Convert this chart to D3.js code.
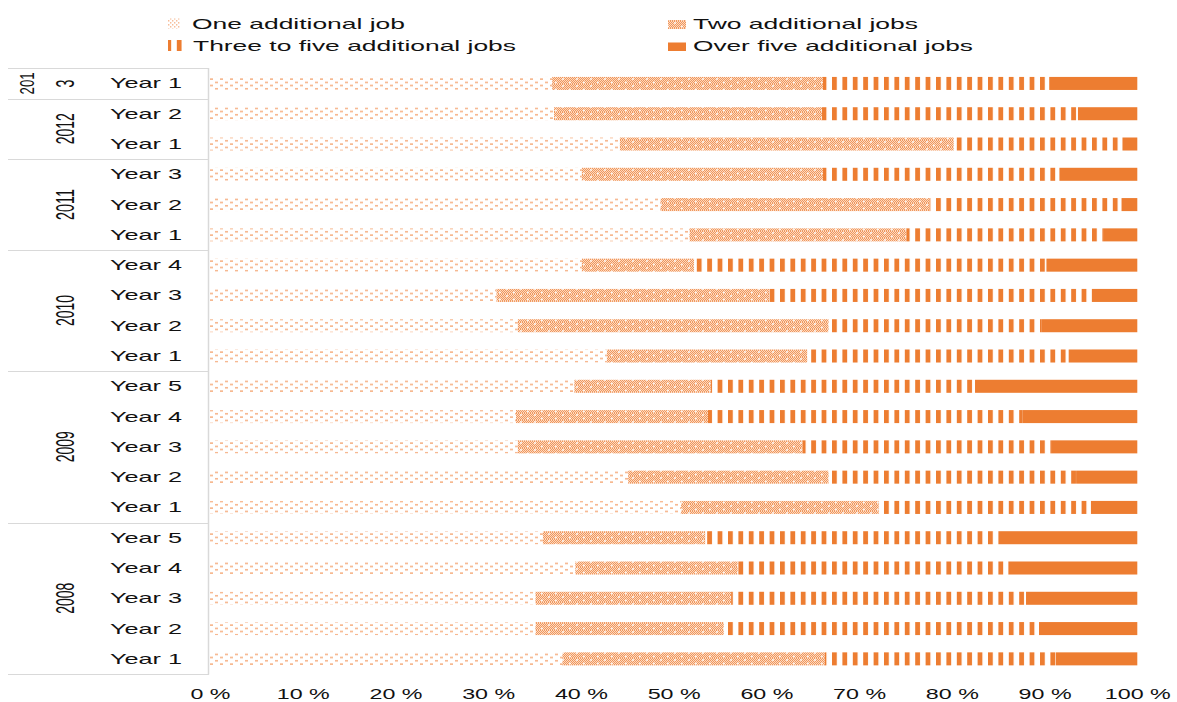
<!DOCTYPE html>
<html>
<head>
<meta charset="utf-8">
<script src="https://cdn.jsdelivr.net/npm/d3@7"></script>
<style>
  html, body { margin: 0; padding: 0; background: #ffffff; }
  svg { display: block; }
  text { font-family: "Liberation Sans", Arial, sans-serif; fill: #111111; }
</style>
</head>
<body>
<svg id="chart" width="1177" height="702"></svg>
<script>
// Rows, top to bottom
const cohortYears = ["2013","2012","2012","2011","2011","2011","2010","2010","2010","2010",
                     "2009","2009","2009","2009","2009","2008","2008","2008","2008","2008"];
const rowLabels = ["Year 1","Year 2","Year 1","Year 3","Year 2","Year 1","Year 4","Year 3","Year 2","Year 1",
                   "Year 5","Year 4","Year 3","Year 2","Year 1","Year 5","Year 4","Year 3","Year 2","Year 1"];

// Shares of each category (%)
const oneJob      = [36.9,37.1,44.2,40.1,48.6,51.7,40.1,30.9,33.2,42.8,39.3,33.0,33.2,45.1,50.8,35.9,39.4,35.1,35.1,38.0];
const twoJobs     = [29.2,28.9,36.0,26.0,29.0,23.4,12.1,29.4,33.5,21.6,14.7,20.7,30.7,21.6,21.3,17.5,17.5,21.1,20.3,28.3];
const threeToFive = [24.4,27.6,18.2,25.5,20.7,21.3,38.0,34.8,23.0,28.2,28.5,33.9,26.8,26.7,22.9,31.9,29.2,31.8,34.0,24.9];
const overFive    = [ 9.5, 6.4, 1.6, 8.4, 1.7, 3.6, 9.8, 4.9,10.3, 7.4,17.5,12.4, 9.3, 6.6, 5.0,14.7,13.9,12.0,10.6, 8.8];

const seriesNames = ["One additional job","Two additional jobs","Three to five additional jobs","Over five additional jobs"];
const tickValues = [0,10,20,30,40,50,60,70,80,90,100];

const svg = d3.select("#chart");
const defs = svg.append("defs");

// Fill patterns
function dotPattern(id, w, h, dw, dh) {
  const p = defs.append("pattern").attr("id",id).attr("patternUnits","userSpaceOnUse")
    .attr("width",w).attr("height",h);
  p.append("rect").attr("x",0).attr("y",h*0.06).attr("width",dw).attr("height",dh).attr("fill","#f08c4c").attr("opacity",0.75);
  p.append("rect").attr("x",w/2).attr("y",h*0.56).attr("width",dw).attr("height",dh).attr("fill","#f08c4c").attr("opacity",0.75);
}
dotPattern("p-one", 10, 6.5, 3, 1.4);
dotPattern("p-one-key", 4, 4, 1.4, 1.2);

const pCheck = defs.append("pattern").attr("id","p-check").attr("patternUnits","userSpaceOnUse")
  .attr("width",2).attr("height",2);
pCheck.append("rect").attr("width",2).attr("height",2).attr("fill","#fbd9c2");
pCheck.append("rect").attr("width",1).attr("height",1).attr("fill","#f1975b");
pCheck.append("rect").attr("x",1).attr("y",1).attr("width",1).attr("height",1).attr("fill","#f1975b");

const pTwo = defs.append("pattern").attr("id","p-two").attr("patternUnits","userSpaceOnUse")
  .attr("width",14).attr("height",7);
pTwo.append("rect").attr("width",14).attr("height",7).attr("fill","url(#p-check)");
pTwo.append("circle").attr("cx",3).attr("cy",2).attr("r",0.9).attr("fill","#ffffff");
pTwo.append("circle").attr("cx",10).attr("cy",5.5).attr("r",0.9).attr("fill","#ffffff");

const pThree = defs.append("pattern").attr("id","p-three").attr("patternUnits","userSpaceOnUse")
  .attr("width",10.4).attr("height",10);
pThree.append("rect").attr("x",0).attr("width",4.8).attr("height",10).attr("fill","#ED7D31");

const fills = ["url(#p-one)","url(#p-two)","url(#p-three)","#ED7D31"];
const keyFills = ["url(#p-one-key)","url(#p-two)","url(#p-three)","#ED7D31"];

// Table for stacking
const keys = ["one","two","three","over"];
const rows = rowLabels.map((lab,i) => ({
  id: i, label: lab, cohort: cohortYears[i],
  one: oneJob[i], two: twoJobs[i], three: threeToFive[i], over: overFive[i]
}));
const stacked = d3.stack().keys(keys)(rows);

// Scales
const x = d3.scaleLinear().domain([0,100]).range([210,1137.3]);
const y = d3.scaleBand().domain(rows.map(d=>d.id)).range([68.3,674])
  .paddingInner(0.57).paddingOuter(0.285);
const step = y.step();
const bandTop = i => y(i) - y.paddingOuter()*step;

// Group separators and vertical axis
const gridColor = "#d9d9d9";
const groupNames = Array.from(new Set(cohortYears));
const groups = groupNames.map(g => {
  const idx = rows.filter(r=>r.cohort===g).map(r=>r.id);
  return {name:g, first:d3.min(idx), last:d3.max(idx)};
});
const sepYs = [68.3].concat(groups.map(g => bandTop(g.last) + step));
svg.append("g").selectAll("line").data(sepYs).join("line")
  .attr("x1",8).attr("x2",209).attr("y1",d=>Math.round(d)+0.5).attr("y2",d=>Math.round(d)+0.5)
  .attr("stroke",gridColor).attr("stroke-width",1);
svg.append("line").attr("x1",208.5).attr("x2",208.5).attr("y1",68).attr("y2",674.5)
  .attr("stroke",gridColor).attr("stroke-width",1.5);

// Bars
svg.append("g").selectAll("g").data(stacked).join("g")
  .attr("fill",(d,i)=>fills[i])
  .selectAll("rect").data(d=>d.map(s=>({s, id:s.data.id}))).join("rect")
  .attr("x",d=>x(d.s[0]))
  .attr("width",d=>x(d.s[1])-x(d.s[0]))
  .attr("y",d=>y(d.id))
  .attr("height",y.bandwidth());

// Row labels
svg.append("g").selectAll("text").data(rows).join("text")
  .attr("x",110).attr("y",d=>y(d.id)+y.bandwidth()/2+5)
  .attr("font-size",15)
  .attr("textLength",72).attr("lengthAdjust","spacingAndGlyphs")
  .text(d=>d.label);

// Cohort labels (rotated); the first one wraps onto two lines
const gLab = svg.append("g");
groups.forEach(g => {
  const cy = (y(g.first) + y(g.last) + y.bandwidth())/2;
  if (g.name === "2013") {
    gLab.append("text").attr("transform",`translate(34,${cy}) rotate(-90)`)
      .attr("text-anchor","middle").attr("font-size",20)
      .attr("textLength",22).attr("lengthAdjust","spacingAndGlyphs").text("201");
    gLab.append("text").attr("transform",`translate(74,${cy}) rotate(-90)`)
      .attr("text-anchor","middle").attr("font-size",26)
      .attr("textLength",8).attr("lengthAdjust","spacingAndGlyphs").text("3");
  } else {
    gLab.append("text").attr("transform",`translate(74,${cy}) rotate(-90)`)
      .attr("text-anchor","middle").attr("font-size",26)
      .attr("textLength",31).attr("lengthAdjust","spacingAndGlyphs").text(g.name);
  }
});

// X axis
const xAxis = d3.axisBottom(x).tickValues(tickValues).tickSize(0).tickPadding(14)
  .tickFormat(d => d + " %");
const gx = svg.append("g").attr("transform","translate(0,674)").call(xAxis);
gx.select(".domain").remove();
gx.selectAll("text")
  .attr("font-family","Liberation Sans, Arial, sans-serif")
  .attr("font-size",15).attr("fill","#111111")
  .attr("textLength",d => 27 + 13*String(d).length)
  .attr("lengthAdjust","spacingAndGlyphs");

// Legend
const legendItems = [
  {name:seriesNames[0], fill:keyFills[0], sx:168, sy:18.5, sw:12, sh:10, tx:192, ty:29, tl:213},
  {name:seriesNames[1], fill:keyFills[1], sx:668, sy:20,   sw:18, sh:9,  tx:693, ty:29, tl:225},
  {name:seriesNames[2], fill:keyFills[2], sx:168, sy:40,   sw:14, sh:11, tx:193, ty:51, tl:323},
  {name:seriesNames[3], fill:keyFills[3], sx:668, sy:42.5, sw:18, sh:8.5,tx:693, ty:51, tl:280}
];
const lg = svg.append("g").selectAll("g").data(legendItems).join("g");
lg.append("rect").attr("x",d=>d.sx).attr("y",d=>d.sy).attr("width",d=>d.sw).attr("height",d=>d.sh)
  .attr("fill",d=>d.fill);
lg.append("text").attr("x",d=>d.tx).attr("y",d=>d.ty).attr("font-size",15)
  .attr("textLength",d=>d.tl).attr("lengthAdjust","spacingAndGlyphs")
  .text(d=>d.name);
</script>
</body>
</html>
